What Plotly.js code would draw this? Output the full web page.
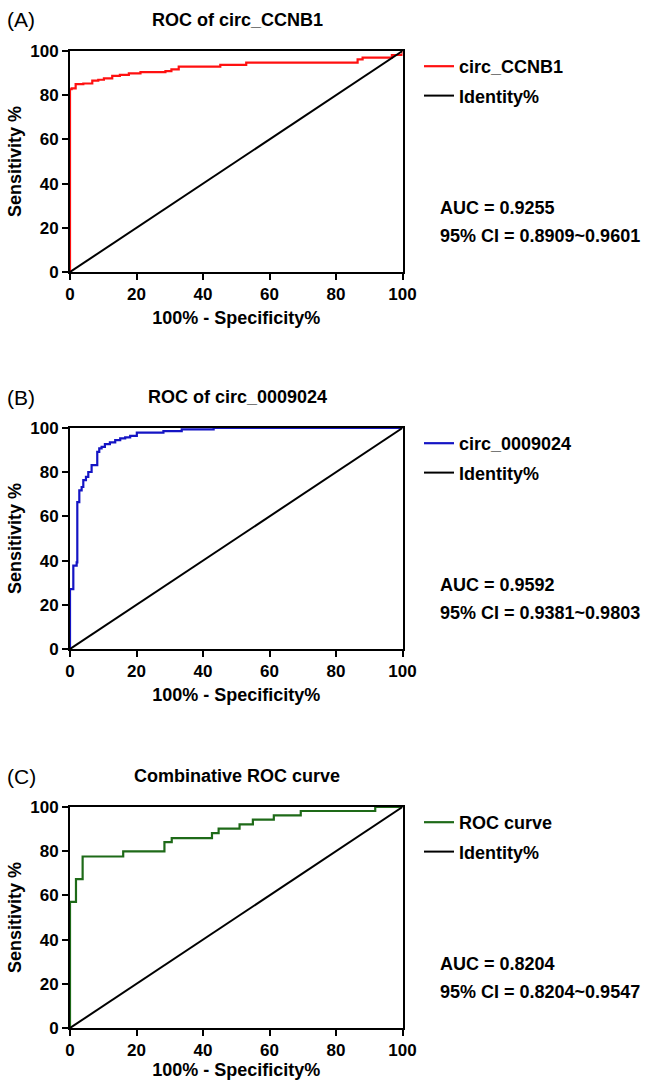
<!DOCTYPE html>
<html><head><meta charset="utf-8">
<script src="https://cdn.plot.ly/plotly-3.0.1.min.js"></script>
<style>html,body{margin:0;padding:0;background:#fff}#chart{width:646px;height:1080px}</style>
</head><body><div id="chart"></div>
<script>
// ---------- data ----------
const panelLabels = ['(A)', '(B)', '(C)'];
const panelTitles = ['ROC of circ_CCNB1', 'ROC of circ_0009024', 'Combinative ROC curve'];
const seriesNames = ['circ_CCNB1', 'circ_0009024', 'ROC curve'];
const identityName = 'Identity%';

const ccnb1X = [0, 0, 0.5, 1.7, 4.0, 6.7, 8.5, 10.2, 12.7, 15.0, 17.7, 21.2, 28.7, 30.5, 32.7, 45.2, 53.0, 86.5, 88.0, 96.8, 100];
const ccnb1Y = [0, 82.7, 83.1, 85.0, 85.3, 86.6, 87.0, 87.6, 88.7, 89.2, 89.9, 90.4, 90.9, 91.7, 92.9, 93.7, 94.7, 96.2, 97.0, 98.2, 100];

const c9024X = [0, 0, 1.0, 2.0, 2.2, 2.8, 3.5, 4.0, 4.8, 5.5, 6.5, 8.2, 8.8, 9.5, 10.5, 12.0, 13.6, 15.1, 16.6, 18.1, 20.1, 28.1, 33.6, 43.2, 100];
const c9024Y = [0, 27.1, 37.7, 39.2, 66.5, 71.8, 73.3, 76.4, 77.9, 80.1, 83.2, 89.2, 90.8, 91.5, 92.7, 93.5, 94.5, 95.3, 95.8, 96.4, 97.9, 98.6, 99.4, 100, 100];

const combX = [0, 0, 1.8, 3.8, 16.0, 28.4, 30.6, 42.7, 44.7, 51.0, 55.0, 61.3, 69.4, 91.8, 100];
const combY = [0, 57.1, 67.4, 77.6, 79.9, 84.1, 85.9, 88.2, 90.2, 92.1, 94.3, 96.2, 98.2, 100, 100];

const identityX = [0, 100];
const identityY = [0, 100];

const aucLabels = ['AUC = 0.9255', 'AUC = 0.9592', 'AUC = 0.8204'];
const ciLabels = ['95% CI = 0.8909~0.9601', '95% CI = 0.9381~0.9803', '95% CI = 0.8204~0.9547'];

const tickVals = [0, 20, 40, 60, 80, 100];
const xTitle = '100% - Specificity%';
const yTitle = 'Sensitivity %';

// ---------- styling / layout ----------
const W = 646, H = 1080;
const px = p => p / W;
const py = p => 1 - p / H;
const FONT = 'Liberation Sans, Arial, Helvetica, sans-serif';
const colors = ['#ff1010', '#1414c4', '#1e6a18'];
const seriesX = [ccnb1X, c9024X, combX];
const seriesY = [ccnb1Y, c9024Y, combY];

const plotLeft = 70, plotRight = 402.5;
const plotTops = [51, 428, 807];
const plotH = 221;

const traces = [];
const layout = {
  width: W, height: H,
  margin: {l: 0, r: 0, t: 0, b: 0},
  paper_bgcolor: '#fff', plot_bgcolor: '#fff',
  font: {family: FONT, color: '#000'},
  showlegend: true,
  annotations: []
};

for (let i = 0; i < 3; i++) {
  const sx = i === 0 ? '' : String(i + 1);
  const legendId = i === 0 ? 'legend' : 'legend' + (i + 1);
  traces.push({
    x: seriesX[i], y: seriesY[i], type: 'scatter', mode: 'lines',
    line: {color: colors[i], width: 2.2, shape: 'hv'},
    name: seriesNames[i], xaxis: 'x' + sx, yaxis: 'y' + sx,
    legend: legendId, legendgroup: 'g' + i + 'a', cliponaxis: false, hoverinfo: 'skip'
  });
  traces.push({
    x: identityX, y: identityY, type: 'scatter', mode: 'lines',
    line: {color: '#000', width: 2},
    name: identityName, xaxis: 'x' + sx, yaxis: 'y' + sx,
    legend: legendId, legendgroup: 'g' + i + 'b', cliponaxis: false, hoverinfo: 'skip'
  });
  const top = plotTops[i], bottom = top + plotH;
  const axCommon = {
    range: [0, 100], tickvals: tickVals, ticks: 'outside', ticklen: 6, tickwidth: 2,
    tickcolor: '#000', showline: true, linecolor: '#000', linewidth: 2, mirror: true,
    showgrid: false, zeroline: false, layer: 'below traces', fixedrange: true,
    tickfont: {family: FONT, size: 17, weight: 'bold', color: '#000'}
  };
  layout['xaxis' + sx] = Object.assign({}, axCommon, {
    domain: [px(plotLeft), px(plotRight)], anchor: 'y' + sx,
    title: {text: xTitle, font: {family: FONT, size: 18, weight: 'bold', color: '#000'}, standoff: 8}
  });
  layout['yaxis' + sx] = Object.assign({}, axCommon, {
    domain: [py(bottom), py(top)], anchor: 'x' + sx,
    title: {text: yTitle, font: {family: FONT, size: 18, weight: 'bold', color: '#000'}, standoff: 4}
  });
  layout[legendId] = {
    x: px(419), y: py(top - 3), xanchor: 'left', yanchor: 'top',
    bgcolor: 'rgba(0,0,0,0)', borderwidth: 0, tracegroupgap: 3,
    traceorder: 'grouped',
    font: {family: FONT, size: 18, weight: 'bold', color: '#000'}
  };
  // subplot title
  layout.annotations.push({
    xref: 'paper', yref: 'paper', x: px((plotLeft + plotRight) / 2 + 1), y: py(top - 31),
    text: panelTitles[i], showarrow: false, xanchor: 'center', yanchor: 'middle',
    font: {family: FONT, size: 18, weight: 'bold', color: '#000'}
  });
  // panel label
  layout.annotations.push({
    xref: 'paper', yref: 'paper', x: px(5), y: py(top - 31),
    text: panelLabels[i], showarrow: false, xanchor: 'left', yanchor: 'middle',
    font: {family: FONT, size: 21, color: '#000'}
  });
  // AUC text
  layout.annotations.push({
    xref: 'paper', yref: 'paper', x: px(438), y: py(top + 157),
    text: aucLabels[i], showarrow: false, xanchor: 'left', yanchor: 'middle',
    font: {family: FONT, size: 18, weight: 'bold', color: '#000'}
  });
  layout.annotations.push({
    xref: 'paper', yref: 'paper', x: px(438), y: py(top + 185),
    text: ciLabels[i], showarrow: false, xanchor: 'left', yanchor: 'middle',
    font: {family: FONT, size: 18, weight: 'bold', color: '#000'}
  });
}

Plotly.newPlot('chart', traces, layout, {staticPlot: true, displayModeBar: false});
</script>
</body></html>
